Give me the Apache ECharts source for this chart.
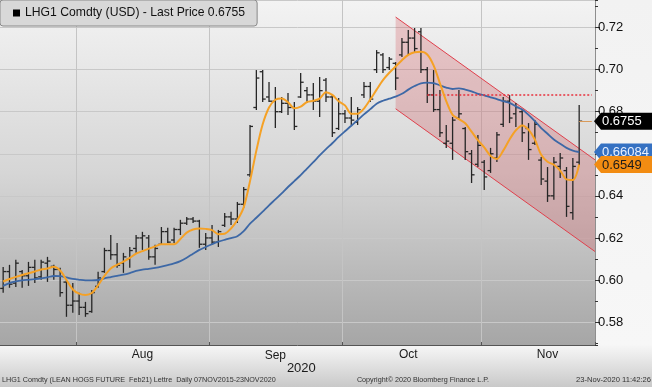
<!DOCTYPE html>
<html>
<head>
<meta charset="utf-8">
<script src="https://cdn.jsdelivr.net/npm/echarts@6/dist/echarts.min.js"></script>
<style>html,body{margin:0;padding:0;background:#eee}#c{width:652px;height:387px}</style>
</head>
<body>
<div id="c"></div>
<script>
// ---- data ----
const dates = [
 '2020-07-16','2020-07-17','2020-07-20','2020-07-21','2020-07-22','2020-07-23','2020-07-24','2020-07-27','2020-07-28','2020-07-29','2020-07-30','2020-07-31',
 '2020-08-03','2020-08-04','2020-08-05','2020-08-06','2020-08-07','2020-08-10','2020-08-11','2020-08-12','2020-08-13','2020-08-14','2020-08-17','2020-08-18','2020-08-19','2020-08-20','2020-08-21','2020-08-24','2020-08-25','2020-08-26','2020-08-27','2020-08-28','2020-08-31',
 '2020-09-01','2020-09-02','2020-09-03','2020-09-04','2020-09-08','2020-09-09','2020-09-10','2020-09-11','2020-09-14','2020-09-15','2020-09-16','2020-09-17','2020-09-18','2020-09-21','2020-09-22','2020-09-23','2020-09-24','2020-09-25','2020-09-28','2020-09-29','2020-09-30',
 '2020-10-01','2020-10-02','2020-10-05','2020-10-06','2020-10-07','2020-10-08','2020-10-09','2020-10-12','2020-10-13','2020-10-14','2020-10-15','2020-10-16','2020-10-19','2020-10-20','2020-10-21','2020-10-22','2020-10-23','2020-10-26','2020-10-27','2020-10-28','2020-10-29','2020-10-30',
 '2020-11-02','2020-11-03','2020-11-04','2020-11-05','2020-11-06','2020-11-09','2020-11-10','2020-11-11','2020-11-12','2020-11-13','2020-11-16','2020-11-17','2020-11-18','2020-11-19','2020-11-20','2020-11-23'
];
const padDates = ['2020-11-24','2020-11-25'];

const opens = [.5960,.6040,.5985,.6040,.6020,.6060,.6015,.6080,.6065,.6050,
 .5990,.5880,.5900,.5870,.5850,.5970,.6040,.6140,.6120,.6080,
 .6100,.6150,.6200,.6200,.6110,.6170,.6230,.6190,.6240,.6270,
 .6290,.6280,.6170,.6200,.6180,.6260,.6300,.6290,.6360,.6500,
 .6820,.6990,.6870,.6850,.6800,.6840,.6820,.6870,.6900,.6880,
 .6850,.6950,.6870,.6720,.6790,.6770,.6750,.6880,.6920,.7000,
 .7070,.7010,.7030,.7070,.7130,.7150,.7180,.7000,.6880,.6810,
 .6650,.6650,.6770,.6720,.6600,.6550,.6560,.6520,.6580,.6740,
 .6850,.6790,.6800,.6720,.6650,.6570,.6470,.6400,.6540,.6520,
 .6320,.6560];
const highs = [.6062,.6072,.6096,.6048,.6086,.6096,.6096,.6110,.6072,.6058,
 .6001,.5986,.5939,.5896,.5953,.6039,.6153,.6214,.6176,.6129,
 .6157,.6214,.6229,.6214,.6167,.6252,.6248,.6248,.6286,.6300,
 .6300,.6286,.6224,.6262,.6238,.6319,.6324,.6371,.6442,.6737,
 .6998,.6998,.6941,.6917,.6870,.6889,.6846,.6984,.6917,.6936,
 .6965,.6960,.6879,.6865,.6808,.6870,.6822,.6941,.6941,.7093,
 .7079,.7060,.7036,.7150,.7188,.7198,.7198,.7012,.6998,.6903,
 .6737,.6775,.6903,.6727,.6618,.6689,.6571,.6628,.6704,.6870,
 .6879,.6841,.6808,.6746,.6761,.6585,.6537,.6585,.6604,.6537,
 .6580,.6832];
const lows = [.5939,.5963,.5967,.5963,.5972,.5986,.6001,.5991,.6001,.5920,
 .5825,.5844,.5834,.5825,.5844,.5963,.6034,.6096,.6058,.6034,
 .6058,.6129,.6143,.6096,.6072,.6167,.6176,.6176,.6214,.6262,
 .6271,.6153,.6143,.6167,.6157,.6252,.6262,.6271,.6343,.6490,
 .6808,.6846,.6846,.6723,.6794,.6784,.6713,.6865,.6841,.6808,
 .6775,.6846,.6680,.6713,.6746,.6737,.6737,.6865,.6846,.6984,
 .6984,.6998,.6903,.7060,.7069,.7079,.6984,.6841,.6799,.6680,
 .6628,.6571,.6761,.6571,.6461,.6537,.6428,.6509,.6561,.6727,
 .6746,.6727,.6656,.6571,.6642,.6452,.6371,.6381,.6485,.6300,
 .6286,.6547];
const closes = [.6040,.5980,.6080,.6020,.6060,.6010,.6085,.6090,.6050,.5940,
 .5880,.5900,.5870,.5840,.5940,.6010,.6140,.6120,.6070,.6110,
 .6140,.6200,.6210,.6110,.6150,.6230,.6180,.6240,.6270,.6290,
 .6280,.6170,.6200,.6180,.6230,.6300,.6290,.6360,.6430,.6730,
 .6960,.6860,.6850,.6800,.6840,.6820,.6730,.6940,.6880,.6850,
 .6900,.6870,.6700,.6790,.6770,.6760,.6810,.6920,.6860,.7080,
 .7000,.7050,.6960,.7130,.7150,.7100,.7000,.6880,.6810,.6700,
 .6660,.6760,.6790,.6610,.6500,.6640,.6490,.6600,.6690,.6850,
 .6770,.6820,.6700,.6620,.6740,.6480,.6400,.6560,.6580,.6350,
 .6540,.6755];
const maFast = [.5993,.6005,.6015,.6024,.6032,.6040,.6050,.6055,.6063,.6045,
 .6000,.5955,.5935,.5929,.5938,.5975,.6020,.6055,.6072,.6087,
 .6105,.6125,.6137,.6149,.6160,.6170,.6170,.6170,.6195,.6225,
 .6240,.6245,.6243,.6237,.6218,.6220,.6245,.6285,.6345,.6470,
 .6615,.6740,.6820,.6857,.6863,.6845,.6816,.6824,.6846,.6852,
 .6862,.6893,.6880,.6850,.6830,.6790,.6790,.6815,.6858,.6905,
 .6950,.6985,.7015,.7045,.7070,.7083,.7085,.7072,.7020,.6935,
 .6850,.6785,.6765,.6745,.6705,.6665,.6630,.6590,.6575,.6615,
 .6668,.6712,.6735,.6715,.6668,.6595,.6562,.6548,.6520,.6478,
 .6475,.6549];
const maSlow = [.5972,.5985,.5993,.5998,.6001,.6004,.6008,.6013,.6019,.6018,
 .6012,.6005,.6001,.5998,.5998,.6000,.6008,.6014,.6020,.6025,
 .6033,.6043,.6049,.6053,.6058,.6064,.6071,.6079,.6090,.6106,
 .6125,.6143,.6157,.6170,.6182,.6191,.6199,.6208,.6232,.6268,
 .6296,.6325,.6355,.6383,.6412,.6442,.6470,.6498,.6530,.6560,
 .6592,.6622,.6650,.6680,.6707,.6733,.6760,.6787,.6812,.6838,
 .6852,.6862,.6872,.6885,.6905,.6922,.6935,.6938,.6936,.6925,
 .6915,.6908,.6911,.6905,.6897,.6885,.6878,.6868,.6860,.6850,
 .6842,.6825,.6810,.6785,.6755,.6722,.6695,.6668,.6648,.6628,
 .6615,.66084];

const monthStarts = ['2020-08-03','2020-09-01','2020-10-01','2020-11-02'];
const monthLabelAt = {'2020-08-17':'Aug','2020-09-16':'Sep','2020-10-15':'Oct','2020-11-16':'Nov'};
const yearLabel = '2020';
const yearUnder = 'Sep';

const channelDates = ['2020-10-13','2020-11-25'];
const channelUpper = [0.7250, 0.6582];
const channelLower = [0.6814, 0.6146];
const resistanceDates = ['2020-10-20','2020-11-25'];
const resistanceLevel = 0.688;

const seriesName = 'LHG1 Comdty (USD) - Last Price 0.6755';
const footerLeft = 'LHG1 Comdty (LEAN HOGS FUTURE  Feb21) Lettre  Daily 07NOV2015-23NOV2020';
const footerMid = 'Copyright\u00a9 2020 Bloomberg Finance L.P.';
const footerRight = '23-Nov-2020 11:42:26';

// ---- build ----
const categories = dates.concat(padDates);
const idx = d => categories.indexOf(d);
const ohlc = dates.map((d, i) => [i, opens[i], highs[i], lows[i], closes[i]]);
const FONT = 'Liberation Sans';

const chart = echarts.init(document.getElementById('c'), null, {renderer: 'canvas'});
const isMonthStart = (i, v) => monthStarts.indexOf(categories[i]) >= 0;

const option = {
  animation: false,
  backgroundColor: {type: 'linear', x: 0, y: 0, x2: 0, y2: 1, colorStops: [
    {offset: 0, color: '#f2f2f2'}, {offset: 0.89, color: '#f7f7f7'},
    {offset: 0.92, color: '#ebebeb'}, {offset: 1, color: '#c9c9c9'}]},
  textStyle: {fontFamily: FONT},
  legend: {
    left: 0, top: 0, padding: [7, 12, 7, 13], itemWidth: 7, itemHeight: 7,
    selectedMode: false, backgroundColor: '#d8d8d8', borderColor: '#8a8a8a', borderWidth: 1, borderRadius: 3,
    textStyle: {fontSize: 12.2, color: '#111', fontFamily: FONT},
    data: [{name: seriesName, icon: 'rect'}]
  },
  grid: {
    left: -2, right: 57, top: 0, bottom: 42, show: true, borderWidth: 0,
    backgroundColor: {type: 'linear', x: 0, y: 0, x2: 0, y2: 1, colorStops: [
      {offset: 0, color: '#f3f3f3'}, {offset: 0.5, color: '#d6d6d6'}, {offset: 1, color: '#a6a6a6'}]}
  },
  xAxis: {
    type: 'category', data: categories, boundaryGap: true,
    axisLine: {lineStyle: {color: '#555', width: 1}},
    axisTick: {show: true, inside: true, length: 3, interval: isMonthStart, lineStyle: {color: '#555'}},
    splitLine: {show: true, interval: isMonthStart, lineStyle: {color: '#c4c4c4', width: 1}},
    axisLabel: {
      margin: 4, color: '#1a1a1a', fontSize: 12, fontFamily: FONT,
      interval: (i, v) => monthLabelAt[v] !== undefined,
      formatter: v => {
        const m = monthLabelAt[v] || '';
        return m === yearUnder ? '{m|' + m + '}\n{y|' + yearLabel + '}' : m;
      },
      rich: {m: {fontSize: 12, color: '#1a1a1a', fontFamily: FONT, lineHeight: 13},
             y: {fontSize: 13, color: '#1a1a1a', fontFamily: FONT, lineHeight: 13, padding: [0, 0, 0, 52]}}
    }
  },
  yAxis: [{
    type: 'value', position: 'right', min: 0.5691, max: 0.7331, splitNumber: 8, scale: true,
    axisLine: {show: true, lineStyle: {color: '#8e8e8e'}},
    axisTick: {show: true, length: 5, lineStyle: {color: '#333'}},
    axisLabel: {margin: 3, color: '#111', fontSize: 13, fontFamily: FONT, showMinLabel: false, showMaxLabel: false,
      formatter: v => v.toFixed(2)},
    splitLine: {show: true, lineStyle: {color: '#c8c8c8', width: 1}}
  }, {
    type: 'value', position: 'right', min: 0.5691, max: 0.7331, splitNumber: 16, scale: true,
    axisLine: {show: false}, axisTick: {show: true, length: 3, lineStyle: {color: '#333'}},
    axisLabel: {show: false}, splitLine: {show: false}
  }],
  series: [
    {
      type: 'custom', name: 'channel', z: 1, silent: true,
      encode: {x: [0, 1], y: [2, 3, 4, 5]},
      data: [[idx(channelDates[0]), idx(channelDates[1]), channelUpper[0], channelUpper[1], channelLower[0], channelLower[1]]],
      renderItem: (params, api) => {
        const a = api.coord([api.value(0), api.value(2)]);
        const b = api.coord([api.value(1), api.value(3)]);
        const d = api.coord([api.value(0), api.value(4)]);
        const c = api.coord([api.value(1), api.value(5)]);
        const right = params.coordSys.x + params.coordSys.width;
        const ext = (p, q) => [right, p[1] + (q[1] - p[1]) * (right - p[0]) / (q[0] - p[0])];
        const b2 = ext(a, b), c2 = ext(d, c);
        return {type: 'group', children: [
          {type: 'polygon', shape: {points: [a, b2, c2, d]}, style: {fill: 'rgba(205,45,55,0.22)'}},
          {type: 'line', shape: {x1: a[0], y1: a[1], x2: b2[0], y2: b2[1]}, style: {stroke: '#e0404c', lineWidth: 1}},
          {type: 'line', shape: {x1: d[0], y1: d[1], x2: c2[0], y2: c2[1]}, style: {stroke: '#e0404c', lineWidth: 1}}
        ]};
      },
      markLine: {
        silent: true, symbol: ['none', 'none'], label: {show: false},
        lineStyle: {color: '#e8303c', type: [2, 2], width: 1.6},
        data: [[{coord: [resistanceDates[0], resistanceLevel]}, {coord: [resistanceDates[1], resistanceLevel]}]]
      }
    },
    {
      type: 'custom', name: seriesName, z: 3, itemStyle: {color: '#000'},
      encode: {x: 0, y: [1, 2, 3, 4]},
      data: ohlc,
      renderItem: (params, api) => {
        const x = api.value(0);
        const o = api.coord([x, api.value(1)]);
        const h = api.coord([x, api.value(2)]);
        const l = api.coord([x, api.value(3)]);
        const c = api.coord([x, api.value(4)]);
        const st = {stroke: '#262626', lineWidth: 1.3};
        return {type: 'group', children: [
          {type: 'line', shape: {x1: h[0], y1: h[1], x2: l[0], y2: l[1]}, style: st},
          {type: 'line', shape: {x1: o[0] - 3, y1: o[1], x2: o[0], y2: o[1]}, style: st},
          {type: 'line', shape: {x1: c[0], y1: c[1], x2: c[0] + 3, y2: c[1]}, style: st}
        ]};
      },
      markLine: {
        silent: true, symbol: ['none', 'none'], label: {show: false},
        lineStyle: {color: '#d99a5a', type: 'solid', width: 1},
        data: [[{coord: [dates[dates.length - 1], closes[closes.length - 1]]}, {coord: [padDates[padDates.length - 1], closes[closes.length - 1]]}]]
      }
    },
    {
      type: 'line', name: 'slow', z: 4, data: maSlow, showSymbol: false, smooth: 0.3,
      lineStyle: {color: '#3d68a6', width: 1.8}
    },
    {
      type: 'line', name: 'fast', z: 5, data: maFast, showSymbol: false, smooth: 0.3,
      lineStyle: {color: '#f5a125', width: 2}
    }
  ],
  graphic: [
    {type: 'text', x: 2, y: 380, style: {text: footerLeft, font: '7.2px "Liberation Sans"', fill: '#333', verticalAlign: 'middle', align: 'left'}},
    {type: 'text', x: 423, y: 380, style: {text: footerMid, font: '7.2px "Liberation Sans"', fill: '#333', verticalAlign: 'middle', align: 'center'}},
    {type: 'text', x: 651, y: 380, style: {text: footerRight, font: '7.6px "Liberation Sans"', fill: '#333', verticalAlign: 'middle', align: 'right'}}
  ]
};
chart.setOption(option);

// price tags on the right axis, placed via the axis scale
const tags = [
  {v: maSlow[maSlow.length - 1], bg: '#3571c2', fg: '#e8f0ff'},
  {v: maFast[maFast.length - 1], bg: '#f28c12', fg: '#1a1a1a'},
  {v: closes[closes.length - 1], bg: '#000000', fg: '#ffffff'}
];
const tagGraphics = [];
tags.forEach(t => {
  const y = chart.convertToPixel({yAxisIndex: 0}, t.v);
  const x0 = 595;
  tagGraphics.push({type: 'polygon', z: 100, shape: {points: [[x0 - 1, y], [x0 + 6, y - 8.5], [652, y - 8.5], [652, y + 8.5], [x0 + 6, y + 8.5]]}, style: {fill: t.bg}});
  tagGraphics.push({type: 'text', z: 101, x: x0 + 7, y: y + 0.5, style: {text: String(t.v).replace(/^\./, '0.'), font: '13px "Liberation Sans"', fill: t.fg, verticalAlign: 'middle', align: 'left'}});
});
chart.setOption({graphic: option.graphic.concat(tagGraphics)});
</script>
</body>
</html>
